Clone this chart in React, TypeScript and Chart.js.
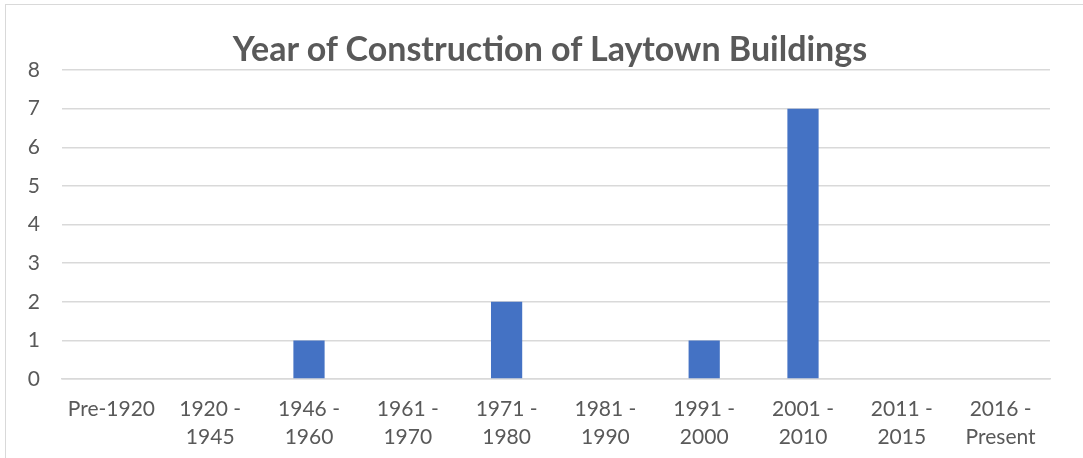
import React, { useEffect, useRef } from "react";
import { Chart, registerables } from "chart.js";

Chart.register(...registerables);

const categories: (string | string[])[] = [
  "Pre-1920",
  ["1920 -", "1945"],
  ["1946 -", "1960"],
  ["1961 -", "1970"],
  ["1971 -", "1980"],
  ["1981 -", "1990"],
  ["1991 -", "2000"],
  ["2001 -", "2010"],
  ["2011 -", "2015"],
  ["2016 -", "Present"],
];
const buildingCounts = [0, 0, 1, 0, 2, 0, 1, 7, 0, 0];
const chartTitle = "Year of Construction of Laytown Buildings";
const yMax = 8;

export default function App() {
  const ref = useRef<HTMLCanvasElement>(null);
  useEffect(() => {
    document.body.style.margin = "0";
    const chart = new Chart(ref.current!, {
      type: "bar",
      data: {
        labels: categories,
        datasets: [
          {
            data: buildingCounts,
            backgroundColor: "#4472C4",
            barPercentage: 0.316,
            categoryPercentage: 1,
          },
        ],
      },
      options: {
        responsive: false,
        animation: false,
        layout: { padding: { left: 0, right: 33, top: 70, bottom: 0 } },
        plugins: {
          legend: { display: false },
          tooltip: { enabled: false },
          title: { display: false },
        },
        scales: {
          x: {
            grid: { display: false, drawTicks: false },
            border: { display: true, color: "#d9d9d9", width: 1.5 },
            ticks: {
              color: "#595959",
              font: { family: "Lato", size: 21, lineHeight: 1.33 },
              padding: 16,
              maxRotation: 0,
              autoSkip: false,
            },
            afterFit: (s: any) => {
              s.height = 79;
            },
          },
          y: {
            min: 0,
            max: yMax,
            grid: { color: "#d9d9d9", lineWidth: 1.5, drawTicks: false },
            border: { display: false },
            ticks: {
              stepSize: 1,
              color: "#595959",
              font: { family: "Lato", size: 21 },
              padding: 22,
            },
            afterFit: (s: any) => {
              s.width = 62;
            },
          },
        },
      },
    });
    return () => chart.destroy();
  }, []);
  return (
    <div style={{ position: "fixed", left: 0, top: 0, width: 1083, height: 458, background: "#fff", overflow: "hidden" }}>
      <div
        style={{
          position: "absolute",
          left: 5,
          top: 4,
          width: 1200,
          height: 600,
          border: "1px solid #d9d9d9",
        }}
      />
      <canvas ref={ref} width={1083} height={458} style={{ position: "absolute", left: 0, top: 0 }} />
      <div
        style={{
          position: "absolute",
          left: 0,
          top: 28,
          width: 1100,
          height: 40,
          lineHeight: "40px",
          textAlign: "center",
          fontFamily: "Lato",
          fontWeight: "bold",
          fontSize: 34,
          color: "#595959",
          whiteSpace: "nowrap",
        }}
      >
        {chartTitle}
      </div>
    </div>
  );
}
